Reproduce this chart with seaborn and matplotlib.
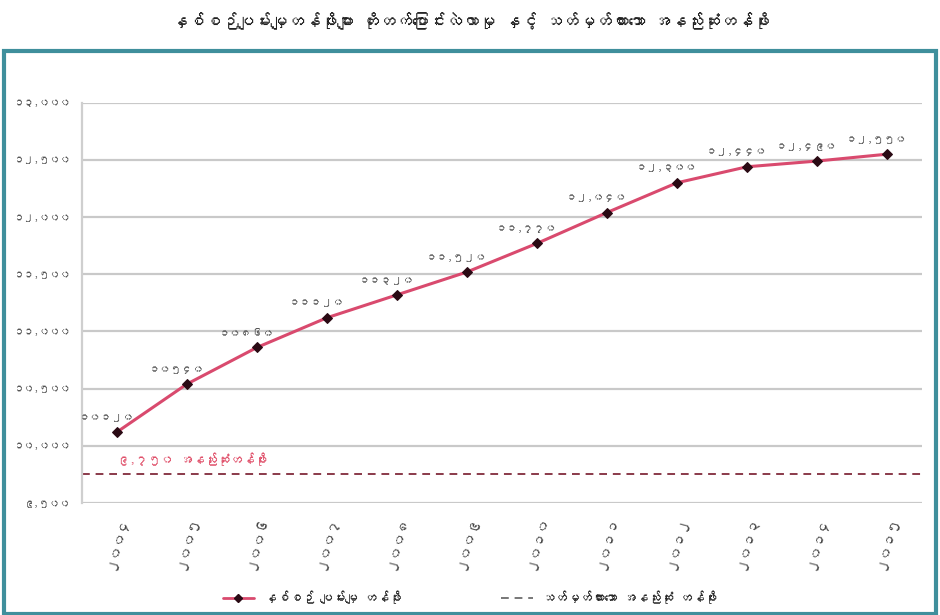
import pandas as pd
import seaborn as sns
import matplotlib.pyplot as plt
from matplotlib import font_manager
from matplotlib.ft2font import FT2Font
from matplotlib.patches import Rectangle
from matplotlib.lines import Line2D

# data
years = ["၂၀၀၄", "၂၀၀၅", "၂၀၀၆", "၂၀၀၇", "၂၀၀၈", "၂၀၀၉",
         "၂၀၁၀", "၂၀၁၁", "၂၀၁၂", "၂၀၁၃", "၂၀၁၄", "၂၀၁၅"]
values = [10120, 10540, 10860, 11120, 11320, 11520,
          11770, 12040, 12300, 12440, 12490, 12550]
value_labels = ["၁၀၁၂၀", "၁၀၅၄၀", "၁၀၈၆၀", "၁၁၁၂၀", "၁၁၃၂၀", "၁၁,၅၂၀",
                "၁၁,၇၇၀", "၁၂,၀၄၀", "၁၂,၃၀၀", "၁၂,၄၄၀", "၁၂,၄၉၀", "၁၂,၅၅၀"]
y_ticks = [9500, 10000, 10500, 11000, 11500, 12000, 12500, 13000]
y_tick_labels = ["၉,၅၀၀", "၁၀,၀၀၀", "၁၀,၅၀၀", "၁၁,၀၀၀",
                 "၁၁,၅၀၀", "၁၂,၀၀၀", "၁၂,၅၀၀", "၁၃,၀၀၀"]
threshold = 9750
threshold_label = "၉,၇၅၀ အနည်းဆုံးတန်ဖိုး"
title = "နှစ်စဉ်ပျမ်းမျှတန်ဖိုးများ တိုးတက်ပြောင်းလဲလာမှု နှင့် သတ်မှတ်ထားသော အနည်းဆုံးတန်ဖိုး"
legend_names = ["နှစ်စဉ် ပျမ်းမျှ တန်ဖိုး", "သတ်မှတ်ထားသော အနည်းဆုံး တန်ဖိုး"]


def find_myanmar_font():
    for f in font_manager.fontManager.ttflist:
        try:
            if 0x1000 in FT2Font(f.fname).get_charmap():
                return f.name
        except Exception:
            pass
    return None


sns.set_style("white")
mm = find_myanmar_font()
plt.rcParams['font.family'] = ([mm] if mm else []) + ['DejaVu Sans']

df = pd.DataFrame({'year': years, 'value': values})

fig = plt.figure(figsize=(9.4, 6.15), dpi=100)
ax = fig.add_axes([0.087, 0.182, 0.894, 0.651])

# frame around the chart area
fig.patches.append(Rectangle((0.004, 0.002), 0.992, 0.915, transform=fig.transFigure,
                             fill=False, edgecolor="#3f8f9c", linewidth=3))

for t in y_ticks:
    ax.axhline(t, color="#c9c9c9", linewidth=1.6, zorder=0)

sns.lineplot(data=df, x='year', y='value', sort=False, ax=ax, color="#d94a6e",
             linewidth=2.2, marker='D', markersize=5, markerfacecolor="#2a0a14",
             markeredgecolor="#2a0a14", zorder=3)

ax.axhline(threshold, color="#8a3a4a", linewidth=1.4, linestyle=(0, (4, 3)), zorder=2)
ax.text(0.0, threshold + 130, threshold_label, color="#e0506a", fontsize=9,
        va='center', ha='left')

for i, (v, lab) in enumerate(zip(values, value_labels)):
    ax.text(i - 0.15, v + 90, lab, fontsize=8, color="#555555", ha='center', va='bottom')

ax.set_xlim(-0.5, len(years) - 0.5)
ax.set_ylim(9500, 13000)
ax.set_yticks(y_ticks)
ax.set_yticklabels(y_tick_labels, fontsize=7.5, color="#555555")
ax.set_xticks(range(len(years)))
ax.set_xticklabels(years, rotation=75, fontsize=10, color="#444444")
ax.tick_params(axis='x', pad=8, length=0)
ax.tick_params(axis='y', pad=8, length=0)
ax.set_xlabel('')
ax.set_ylabel('')
for s in ['top', 'right', 'bottom']:
    ax.spines[s].set_visible(False)
ax.spines['left'].set_color("#cfcfcf")
ax.spines['left'].set_linewidth(1.6)

fig.text(0.5, 0.965, title, ha='center', va='center', fontsize=12,
         fontweight='bold', color="#222222")

handles = [Line2D([], [], color="#d94a6e", linewidth=2, marker='D', markersize=4,
                  markerfacecolor="#2a0a14", markeredgecolor="#2a0a14"),
           Line2D([], [], color="#777777", linewidth=1.4, linestyle=(0, (4, 3)))]
fig.legend(handles, legend_names, loc='lower center', bbox_to_anchor=(0.5, 0.0),
           ncol=2, frameon=False, fontsize=9, columnspacing=8, handlelength=2.5)

plt.savefig("out.png", dpi=100)
